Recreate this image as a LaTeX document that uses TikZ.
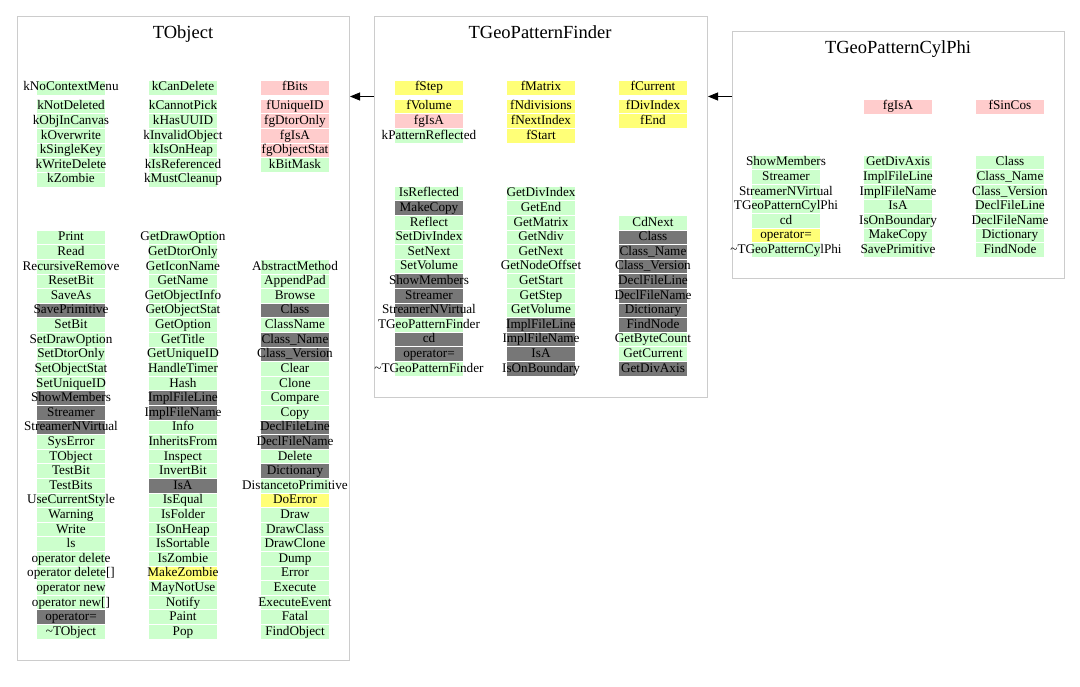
\documentclass[tikz,border=0pt]{standalone}
\usepackage{fontspec}
\setmainfont{Liberation Serif}
\usetikzlibrary{arrows.meta}
\definecolor{gn}{HTML}{CCFFCC}
\definecolor{pk}{HTML}{FFCCCC}
\definecolor{yl}{HTML}{FFFF77}
\definecolor{gy}{HTML}{777777}
\definecolor{fr}{HTML}{CCCCCC}

% one column of members, from the top down
\newcommand{\members}[4]{%
  \foreach \txt/\col [count=\i from 0] in {#4} {
    \fill[\col] (#2,#3+\i*14.6) rectangle ++(68,14.6);
    \draw[white, line width=0.4pt] (#2,#3+\i*14.6) -- ++(68,0);
    \node[member] (#1-\i) at (#2+34,#3+\i*14.6+11) {\txt};
  }}

\begin{document}
\begin{tikzpicture}[x=1pt, y=-1pt,
    classbox/.style={draw=fr, line width=1pt, anchor=north west, inner sep=0pt},
    title/.style={anchor=base, inner sep=0pt, font=\fontsize{18.5}{21}\selectfont},
    member/.style={anchor=base, inner sep=0pt, font=\fontsize{13.2}{15}\selectfont},
    derives/.style={draw=black, line width=0.8pt, -{Triangle[length=10pt,width=8pt]}}]
			\fill[white] (0,0) rectangle (1080,687);
			\useasboundingbox (0,0) rectangle (1080,687);

			% Class frames
			\node[classbox, minimum width=332.5pt, minimum height=643.5pt] (tobject) at (16.5,16.5) {};
			\node[classbox, minimum width=333.5pt, minimum height=380pt] (finder) at (373.5,16.5) {};
			\node[classbox, minimum width=332pt, minimum height=246.5pt] (cylphi) at (732,31.5) {};
			\node[title] (tobject-name) at (183,39) {TObject};
			\node[title] (finder-name) at (540,39) {TGeoPatternFinder};
			\node[title] (cylphi-name) at (898,54) {TGeoPatternCylPhi};

			% Inheritance
			\coordinate (hook) at (0,96.5);
			\draw[derives] (finder.west |- hook) -- (tobject.east |- hook);
			\draw[derives] (cylphi.west |- hook) -- (finder.east |- hook);

			% TObject data members
			\members{obj-d1a}{37}{80}{kNoContextMenu/gn}
			\members{obj-d2a}{149}{80}{kCanDelete/gn}
			\members{obj-d3a}{261}{80}{fBits/pk}
			\members{obj-d1}{37}{99}{kNotDeleted/gn, kObjInCanvas/gn, kOverwrite/gn,
				kSingleKey/gn, kWriteDelete/gn, kZombie/gn}
			\members{obj-d2}{149}{99}{kCannotPick/gn, kHasUUID/gn, kInvalidObject/gn,
				kIsOnHeap/gn, kIsReferenced/gn, kMustCleanup/gn}
			\members{obj-d3}{261}{99}{fUniqueID/pk, fgDtorOnly/pk, fgIsA/pk,
				fgObjectStat/pk, kBitMask/gn}

			% TObject methods
			\members{obj-m1}{37}{230}{Print/gn, Read/gn, RecursiveRemove/gn, ResetBit/gn,
				SaveAs/gn, SavePrimitive/gy, SetBit/gn, SetDrawOption/gn, SetDtorOnly/gn,
				SetObjectStat/gn, SetUniqueID/gn, ShowMembers/gy, Streamer/gy,
				StreamerNVirtual/gy, SysError/gn, TObject/gn, TestBit/gn, TestBits/gn,
				UseCurrentStyle/gn, Warning/gn, Write/gn, ls/gn, {operator delete}/gn,
				{operator delete[]}/gn, {operator new}/gn, {operator new[]}/gn,
				operator=/gy, \textasciitilde TObject/gn}
			\members{obj-m2}{149}{230}{GetDrawOption/gn, GetDtorOnly/gn, GetIconName/gn,
				GetName/gn, GetObjectInfo/gn, GetObjectStat/gn, GetOption/gn, GetTitle/gn,
				GetUniqueID/gn, HandleTimer/gn, Hash/gn, ImplFileLine/gy, ImplFileName/gy,
				Info/gn, InheritsFrom/gn, Inspect/gn, InvertBit/gn, IsA/gy, IsEqual/gn,
				IsFolder/gn, IsOnHeap/gn, IsSortable/gn, IsZombie/gn, MakeZombie/yl,
				MayNotUse/gn, Notify/gn, Paint/gn, Pop/gn}
			\members{obj-m3}{261}{259.2}{AbstractMethod/gn, AppendPad/gn, Browse/gn,
				Class/gy, ClassName/gn, Class\_Name/gy, Class\_Version/gy, Clear/gn,
				Clone/gn, Compare/gn, Copy/gn, DeclFileLine/gy, DeclFileName/gy, Delete/gn,
				Dictionary/gy, DistancetoPrimitive/gn, DoError/yl, Draw/gn, DrawClass/gn,
				DrawClone/gn, Dump/gn, Error/gn, Execute/gn, ExecuteEvent/gn, Fatal/gn,
				FindObject/gn}

			% TGeoPatternFinder data members
			\members{pf-d1a}{395}{80}{fStep/yl}
			\members{pf-d2a}{507}{80}{fMatrix/yl}
			\members{pf-d3a}{619}{80}{fCurrent/yl}
			\members{pf-d1}{395}{99}{fVolume/yl, fgIsA/pk, kPatternReflected/gn}
			\members{pf-d2}{507}{99}{fNdivisions/yl, fNextIndex/yl, fStart/yl}
			\members{pf-d3}{619}{99}{fDivIndex/yl, fEnd/yl}

			% TGeoPatternFinder methods
			\members{pf-m1}{395}{186}{IsReflected/gn, MakeCopy/gy, Reflect/gn,
				SetDivIndex/gn, SetNext/gn, SetVolume/gn, ShowMembers/gy, Streamer/gy,
				StreamerNVirtual/gy, TGeoPatternFinder/gn, cd/gy, operator=/gy,
				\textasciitilde TGeoPatternFinder/gn}
			\members{pf-m2}{507}{186}{GetDivIndex/gn, GetEnd/gn, GetMatrix/gn, GetNdiv/gn,
				GetNext/gn, GetNodeOffset/gn, GetStart/gn, GetStep/gn, GetVolume/gn,
				ImplFileLine/gy, ImplFileName/gy, IsA/gy, IsOnBoundary/gy}
			\members{pf-m3}{619}{215.2}{CdNext/gn, Class/gy, Class\_Name/gy,
				Class\_Version/gy, DeclFileLine/gy, DeclFileName/gy, Dictionary/gy,
				FindNode/gy, GetByteCount/gn, GetCurrent/gn, GetDivAxis/gy}

			% TGeoPatternCylPhi data members
			\members{phi-d2}{864}{99}{fgIsA/pk}
			\members{phi-d3}{976}{99}{fSinCos/pk}

			% TGeoPatternCylPhi methods
			\members{phi-m1}{752}{155}{ShowMembers/gn, Streamer/gn, StreamerNVirtual/gn,
				TGeoPatternCylPhi/gn, cd/gn, operator=/yl,
				\textasciitilde TGeoPatternCylPhi/gn}
			\members{phi-m2}{864}{155}{GetDivAxis/gn, ImplFileLine/gn, ImplFileName/gn,
				IsA/gn, IsOnBoundary/gn, MakeCopy/gn, SavePrimitive/gn}
			\members{phi-m3}{976}{155}{Class/gn, Class\_Name/gn, Class\_Version/gn,
				DeclFileLine/gn, DeclFileName/gn, Dictionary/gn, FindNode/gn}
		\end{tikzpicture}
\end{document}
